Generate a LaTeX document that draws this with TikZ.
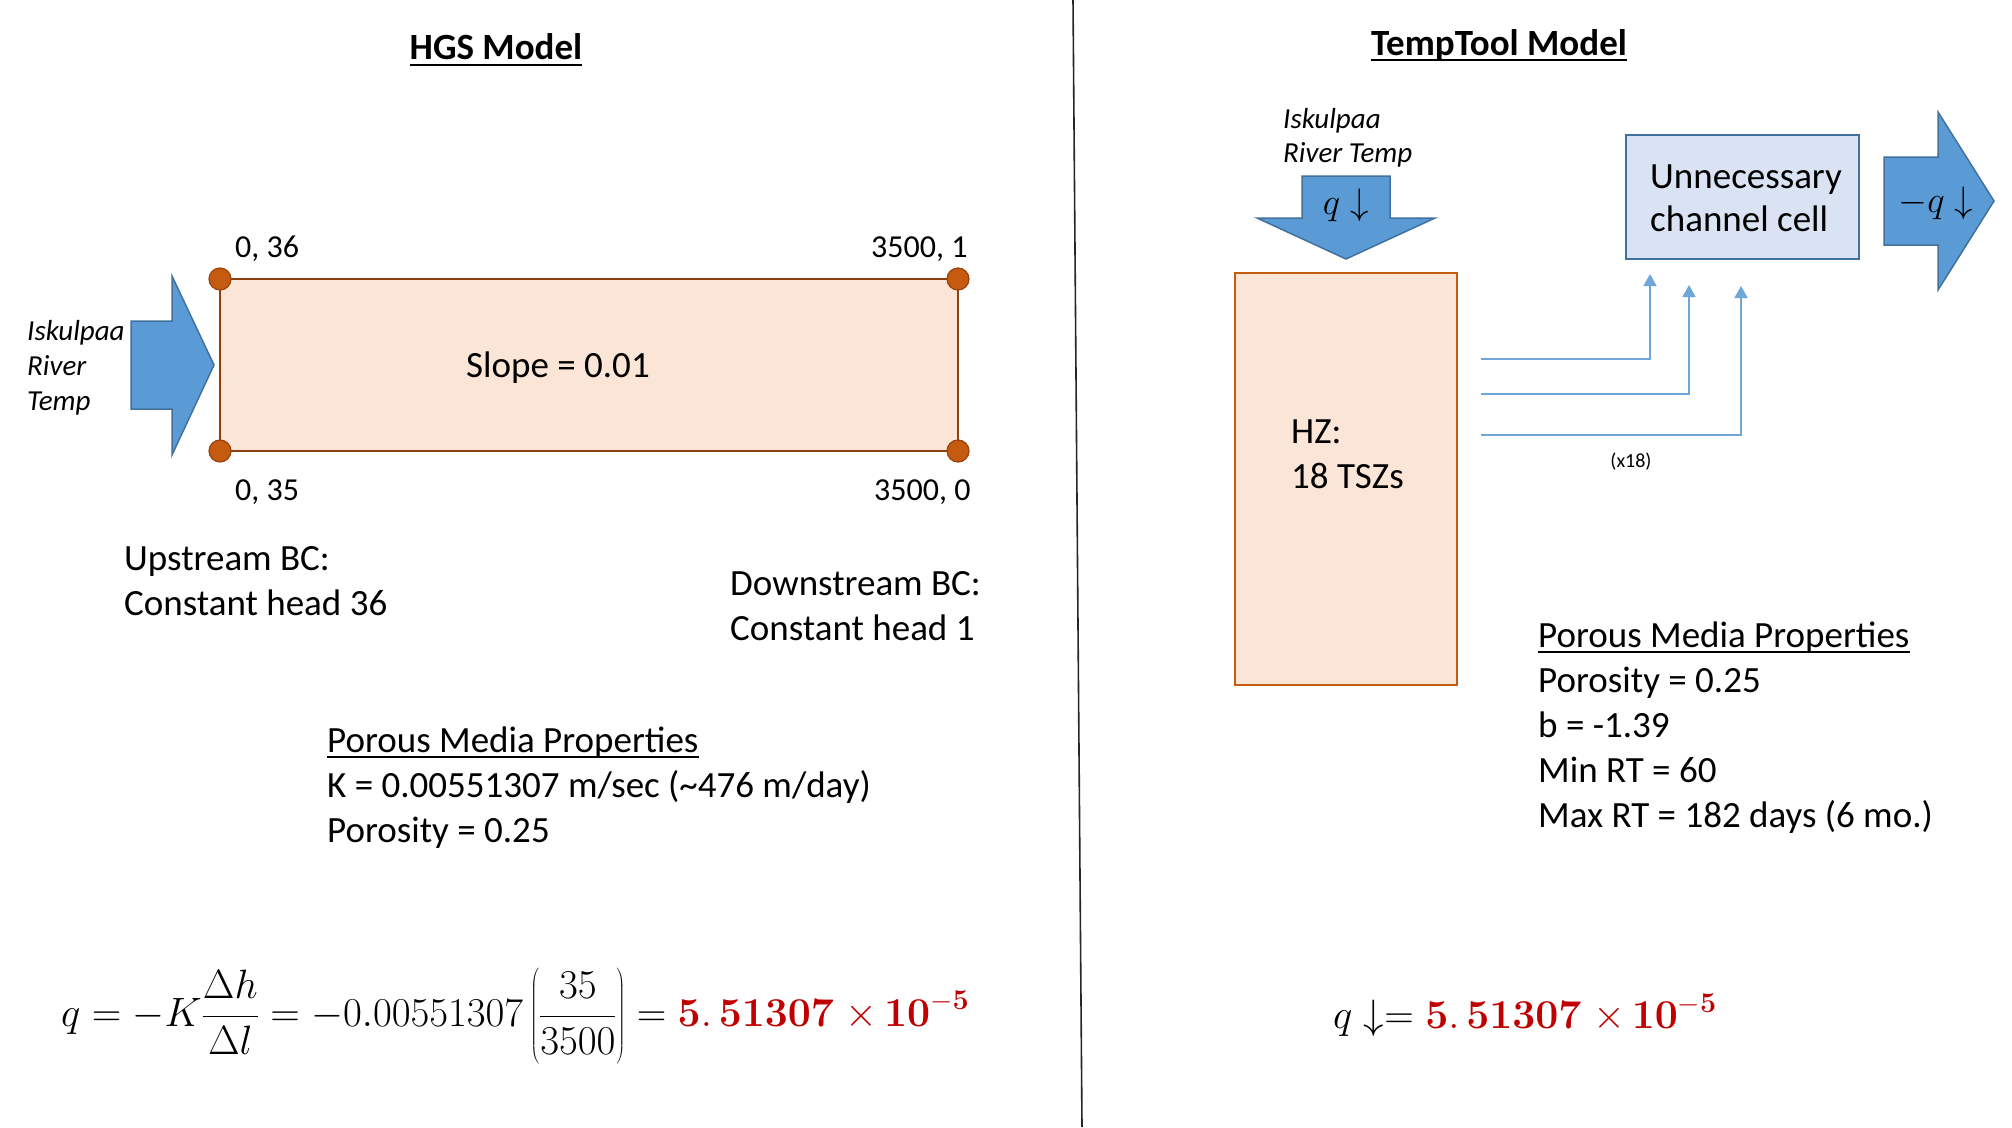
\RequirePackage{fix-cm}
\documentclass[tikz,border=0pt]{standalone}
\usepackage[no-math]{fontspec}
\setmainfont{Carlito}
\usetikzlibrary{arrows.meta}
\definecolor{hzfill}{HTML}{FBE5D6}
\definecolor{hgsline}{HTML}{8E3F0E}
\definecolor{hzline}{HTML}{C55A11}
\definecolor{dotfill}{HTML}{C55A11}
\definecolor{dotline}{HTML}{9A440C}
\definecolor{bluefill}{HTML}{5B9BD5}
\definecolor{blueline}{HTML}{41719C}
\definecolor{cellfill}{HTML}{DAE3F3}
\definecolor{connblue}{HTML}{6FA6DA}
\definecolor{resred}{HTML}{C00000}
\tikzset{
  txt/.style={inner sep=0pt, anchor=base west, font=\fontsize{37}{45}\selectfont},
  corner/.style={inner sep=0pt, anchor=base west, font=\fontsize{32}{38}\selectfont},
  itl/.style={inner sep=0pt, anchor=base west, font=\fontsize{29}{35}\selectfont\itshape},
  ttl/.style={inner sep=0pt, anchor=base, font=\fontsize{37}{45}\selectfont\bfseries},
  small/.style={inner sep=0pt, font=\fontsize{20}{24}\selectfont},
  eqn/.style={inner sep=0pt, anchor=base west, font=\fontsize{41}{49}\selectfont},
  ulthick/.style={line width=2.4pt, black},
  ulthin/.style={line width=1.8pt, black},
  dotc/.style={circle, minimum size=22pt, inner sep=0pt, fill=dotfill, draw=dotline, line width=1.2pt},
  blockarrow/.style={fill=bluefill, draw=blueline, line width=1.5pt},
  conn/.style={draw=connblue, line width=1.5pt, -{Triangle[width=13pt,length=12pt]}},
}
\newcommand{\redres}{{\color{resred}\mathbf{5.}\,\mathbf{51307}\;{\times}\,\mathbf{10}^{-\mathbf{5}}}}
\begin{document}
\begin{tikzpicture}[x=1pt,y=-1pt]
\useasboundingbox[fill=white] (0,0) rectangle (2012,1127);

% divider
\coordinate (d1) at (1073,0);
\coordinate (d2) at (1082,1127);
\draw[line width=1.6pt, black!85] (d1) -- (d2);

% ---------------- HGS model ----------------
\node[ttl] (hgsT) at (496,59) {HGS Model};
\draw[ulthick] ([yshift=-6pt]hgsT.base west) -- ([yshift=-6pt]hgsT.base east);

\node[draw=hgsline, fill=hzfill, line width=2pt, minimum width=738pt, minimum height=172pt, inner sep=0pt] (hgs) at (589,365) {};
\node[dotc] (c1) at (220,279) {};
\node[dotc] (c2) at (958,279) {};
\node[dotc] (c3) at (220,451) {};
\node[dotc] (c4) at (958,451) {};
\node[txt] (slope) at (466,377) {Slope = 0.01};

\node[corner] (l1) at (235,257) {0, 36};
\node[corner] (l2) at (871,257) {3500, 1};
\node[corner] (l3) at (235,500) {0, 35};
\node[corner] (l4) at (874,500) {3500, 0};

\draw[blockarrow] (131,321) -- (172,321) -- (172,276) -- (214,365) -- (172,455) -- (172,409) -- (131,409) -- cycle;
\node[itl] (isk1) at (27,340) {Iskulpaa};
\node[itl] (isk2) at (27,375) {River};
\node[itl] (isk3) at (27,410) {Temp};

\node[txt] (up1) at (124,570) {Upstream BC:};
\node[txt] (up2) at (124,615) {Constant head 36};
\node[txt] (dn1) at (730,595) {Downstream BC:};
\node[txt] (dn2) at (730,640) {Constant head 1};

\node[txt] (pmL0) at (327,752) {Porous Media Properties};
\draw[ulthin] ([yshift=-5pt]pmL0.base west) -- ([yshift=-5pt]pmL0.base east);
\node[txt] (pmL1) at (327,797) {K = 0.00551307 m/sec (\textasciitilde476 m/day)};
\node[txt] (pmL2) at (327,842) {Porosity = 0.25};

\node[eqn] (eqL) at (61,1026) {$\displaystyle q=-K\frac{\Delta h}{\Delta l}=-0.00551307\left(\rule[-38pt]{0pt}{95pt}\frac{35}{3500}\right)=\redres$};

% ---------------- TempTool model ----------------
\node[ttl] (ttT) at (1499,55) {TempTool Model};
\draw[ulthick] ([yshift=-5pt]ttT.base west) -- ([yshift=-5pt]ttT.base east);

\node[itl] (tisk1) at (1283,128) {Iskulpaa};
\node[itl] (tisk2) at (1283,162) {River Temp};

\draw[blockarrow] (1302,176) -- (1390,176) -- (1390,218) -- (1435,218) -- (1346,259) -- (1257,218) -- (1302,218) -- cycle;
\node[inner sep=0pt, font=\fontsize{37}{45}\selectfont] (qin) at (1346,205) {$q\downarrow$};

\node[draw=hzline, fill=hzfill, line width=2.5pt, minimum width=222pt, minimum height=412pt, inner sep=0pt] (hz) at (1346,479) {};
\node[txt] (hz1) at (1291,443) {HZ:};
\node[txt] (hz2) at (1291,488) {18 TSZs};

\node[draw=blueline, fill=cellfill, line width=2.5pt, minimum width=233pt, minimum height=124pt, inner sep=0pt] (cell) at (1742.5,197) {};
\node[txt] (cell1) at (1650,188) {Unnecessary};
\node[txt] (cell2) at (1650,231) {channel cell};

\draw[blockarrow] (1884,157) -- (1938,157) -- (1938,112) -- (1994,201) -- (1938,290) -- (1938,245) -- (1884,245) -- cycle;
\node[inner sep=0pt, font=\fontsize{37}{45}\selectfont] (qout) at (1936,203) {$-q\downarrow$};

\coordinate (s1) at (1481,359);
\coordinate (e1) at (1650,274);
\coordinate (s2) at (1481,394);
\coordinate (e2) at (1689,285);
\coordinate (s3) at (1481,435);
\coordinate (e3) at (1741,286);
\draw[conn] (s1) -| (e1);
\draw[conn] (s2) -| (e2);
\draw[conn] (s3) -| (e3);
\node[small] (x18) at (1631,462) {(x18)};

\node[txt] (pmR0) at (1538,647) {Porous Media Properties};
\draw[ulthin] ([yshift=-5pt]pmR0.base west) -- ([yshift=-5pt]pmR0.base east);
\node[txt] (pmR1) at (1538,692) {Porosity = 0.25};
\node[txt] (pmR2) at (1538,737) {b = -1.39};
\node[txt] (pmR3) at (1538,782) {Min RT = 60};
\node[txt] (pmR4) at (1538,827) {Max RT = 182 days (6 mo.)};

\node[eqn] (eqR) at (1333,1028) {$q\downarrow=\redres$};
\end{tikzpicture}
\end{document}
